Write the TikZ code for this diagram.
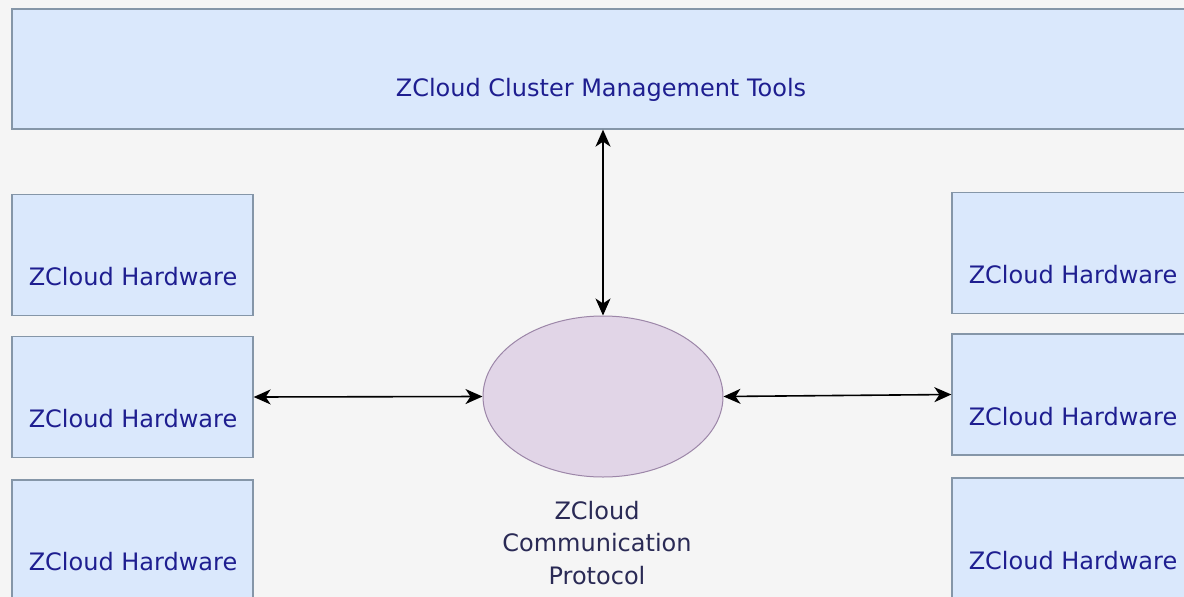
\documentclass[tikz,border=0pt]{standalone}
\usepackage{fontspec}
\setmainfont{DejaVu Sans}
\usetikzlibrary{arrows.meta,shapes.geometric}
\definecolor{bg}{HTML}{F5F5F5}
\definecolor{boxfill}{HTML}{DAE8FC}
\definecolor{boxline}{HTML}{8596A8}
\definecolor{boxtext}{HTML}{1E1E90}
\definecolor{ellfill}{HTML}{E1D5E7}
\definecolor{ellline}{HTML}{9C86A8}
\definecolor{captext}{HTML}{2A2A55}
\tikzset{
  hwbox/.style={draw=boxline, fill=boxfill, line width=1.3pt, rectangle,
    minimum width=241pt, minimum height=121pt, inner sep=0pt},
  boxlabel/.style={text=boxtext, font=\fontsize{24}{29}\selectfont, inner sep=0pt},
  proto/.style={draw=ellline, fill=ellfill, line width=1pt, ellipse,
    minimum width=240pt, minimum height=161pt, inner sep=0pt},
  conn/.style={line width=1.6pt, black, {Stealth[length=17pt,width=15pt,inset=5pt]}-{Stealth[length=17pt,width=15pt,inset=5pt]}},
}
\begin{document}
\begin{tikzpicture}[x=1pt,y=-1pt]
\useasboundingbox (0,0) rectangle (1184,597);
\fill[bg] (0,0) rectangle (1184,597);
\clip (0,0) rectangle (1184,597);
% top box
\node[hwbox, minimum width=1178pt, minimum height=120pt] (top) at (601,69) {};
\node[boxlabel] (toplbl) at (601,90) {ZCloud Cluster Management Tools};
% left column
\node[hwbox] (l1) at (132.5,255) {};
\node[boxlabel] (l1t) at (133,277) {ZCloud Hardware};
\node[hwbox] (l2) at (132.5,397) {};
\node[boxlabel] (l2t) at (133,419) {ZCloud Hardware};
\node[hwbox] (l3) at (132.5,540.5) {};
\node[boxlabel] (l3t) at (133,562) {ZCloud Hardware};
% right column
\node[hwbox] (r1) at (1072.5,253) {};
\node[boxlabel] (r1t) at (1073,275) {ZCloud Hardware};
\node[hwbox] (r2) at (1072.5,394.5) {};
\node[boxlabel] (r2t) at (1073,417) {ZCloud Hardware};
\node[hwbox] (r3) at (1072.5,538.5) {};
\node[boxlabel] (r3t) at (1073,561) {ZCloud Hardware};
% protocol ellipse
\node[proto] (e) at (603,396.5) {};
\node[text=captext, font=\fontsize{24}{32.5}\selectfont, align=center, inner sep=0pt] (etxt) at (597,543) {ZCloud\\Communication\\Protocol};
% connectors
\draw[conn] (e.north) -- (e.north |- top.south);
\draw[conn] (l2.east) -- (e.west);
\draw[conn] (e.east) -- (r2.west);
\end{tikzpicture}
\end{document}
